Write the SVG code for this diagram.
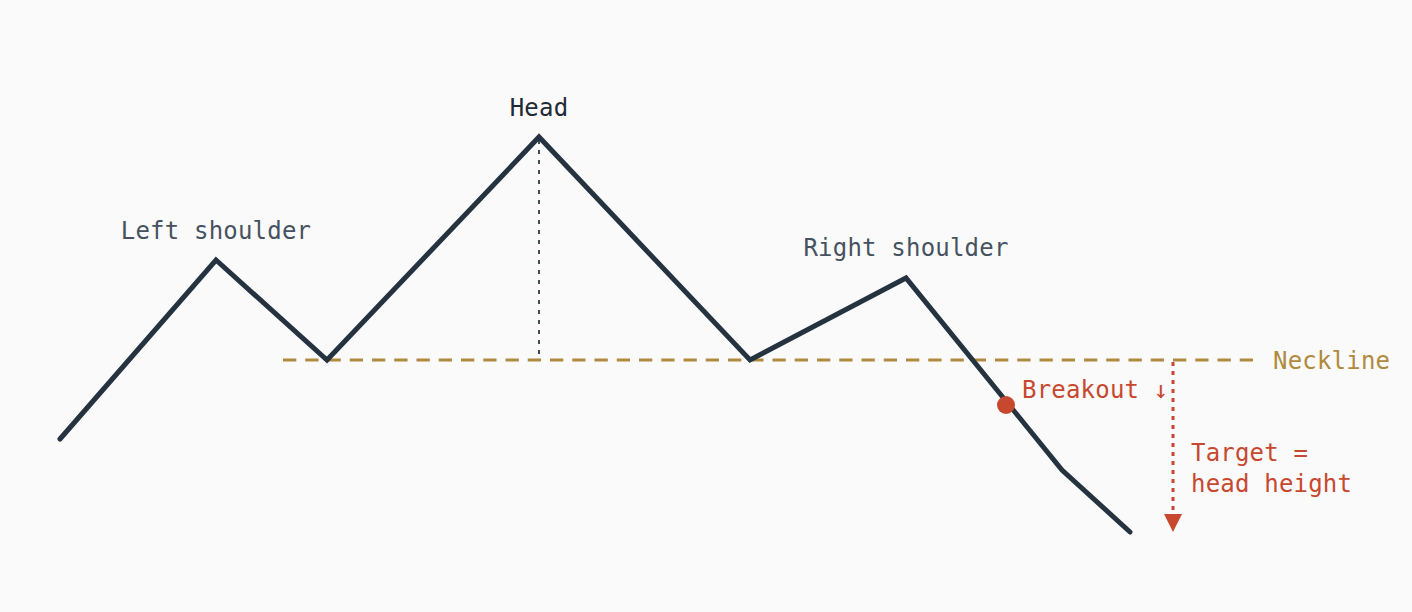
<svg xmlns="http://www.w3.org/2000/svg" width="1412" height="612" viewBox="0 0 1412 612">
<defs>
<style>
.lbl{font-family:"DejaVu Sans Mono","Liberation Mono",monospace;font-size:24px;letter-spacing:0.2px;}
.peak{fill:#46525f;text-anchor:middle;}
.red{fill:#c8472f;}
</style>
</defs>
<rect width="1412" height="612" fill="#fafafa"/>
<g id="connectors">
<line x1="283" y1="360" x2="1253.5" y2="360" stroke="#b08a3e" stroke-width="3" stroke-dasharray="13.3 8.95"/>
<line x1="539" y1="140" x2="539" y2="358" stroke="#3f4b58" stroke-width="2" stroke-dasharray="4 6"/>
<line x1="1173" y1="362" x2="1173" y2="514" stroke="#c8472f" stroke-width="3" stroke-dasharray="4 5"/>
<path d="M1164,514 L1182,514 L1173,532 Z" fill="#c8472f"/>
</g>
<g id="price">
<polyline points="60,439 216,260 327,360 539,137 750,360 906,278 1062,470 1130,532" fill="none" stroke="#253240" stroke-width="5" stroke-linejoin="miter" stroke-linecap="round"/>
</g>
<g id="left-shoulder"><text class="lbl peak" x="216" y="239">Left shoulder</text></g>
<g id="head"><text class="lbl" x="539" y="116" fill="#1f2a37" text-anchor="middle">Head</text></g>
<g id="right-shoulder"><text class="lbl peak" x="906" y="256">Right shoulder</text></g>
<g id="neckline"><text class="lbl" x="1273" y="369" fill="#b08a3e">Neckline</text></g>
<g id="breakout">
<circle cx="1006" cy="405" r="9" fill="#c8472f"/>
<text class="lbl red" x="1022" y="398">Breakout ↓</text>
</g>
<g id="target">
<text class="lbl red" x="1191" y="461">Target =</text>
<text class="lbl red" x="1191" y="492">head height</text>
</g>
</svg>
